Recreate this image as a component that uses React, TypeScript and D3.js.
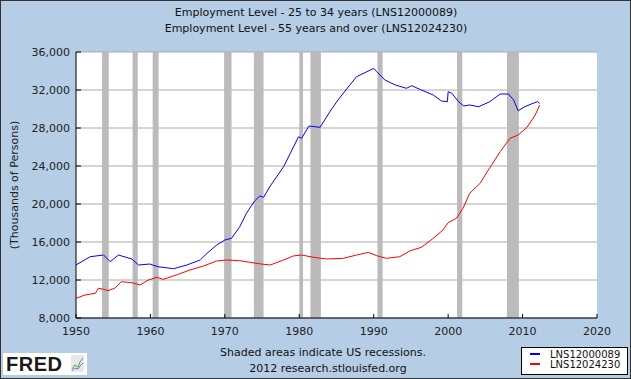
import React from "react";
import * as d3 from "d3";

const titleLines = [
  "Employment Level - 25 to 34 years (LNS12000089)",
  "Employment Level - 55 years and over (LNS12024230)",
];
const yTicks = [8000, 12000, 16000, 20000, 24000, 28000, 32000, 36000];
const xTicks = [1950, 1960, 1970, 1980, 1990, 2000, 2010, 2020];

const recessions: [number, number][] = [
  [1953.5, 1954.4], [1957.6, 1958.3], [1960.3, 1961.1], [1969.9, 1970.9],
  [1973.9, 1975.2], [1980.0, 1980.5], [1981.5, 1982.9], [1990.5, 1991.2],
  [2001.2, 2001.9], [2007.9, 2009.5],
];

const blueYears = [1950, 1951.9, 1953.7, 1954.6, 1955.7, 1957.5, 1958.4, 1959.9, 1961, 1963.1, 1964.9, 1966.7, 1967.6, 1968.9, 1970, 1970.9, 1972, 1972.9, 1974, 1974.7, 1975.2, 1976.1, 1977.9, 1979.9, 1980.3, 1981.3, 1982.8, 1984.1, 1985.2, 1986.8, 1987.7, 1989.1, 1990.0, 1990.4, 1991.5, 1992.9, 1994.4, 1995.1, 1996.4, 1998.0, 1999.1, 1999.9, 2000.0, 2000.5, 2001.4, 2002.1, 2002.9, 2004.1, 2005.6, 2007.0, 2008.1, 2008.8, 2009.4, 2010.3, 2011.4, 2012.0, 2012.3];
const blueValues = [13580, 14450, 14630, 13930, 14630, 14210, 13580, 13680, 13400, 13190, 13580, 14110, 14810, 15680, 16210, 16390, 17610, 19020, 20320, 20840, 20700, 21900, 23930, 27080, 26910, 28210, 28070, 29710, 30950, 32530, 33400, 33930, 34280, 33930, 33050, 32530, 32180, 32450, 32000, 31470, 30840, 30770, 31820, 31650, 30770, 30320, 30420, 30240, 30770, 31580, 31580, 30950, 29820, 30240, 30600, 30770, 30600];

const redYears = [1950, 1951.2, 1952.6, 1953.0, 1953.7, 1954.3, 1955.2, 1956.1, 1957.5, 1958.6, 1959.7, 1960.9, 1961.7, 1963.5, 1965.3, 1967.1, 1968.9, 1970.2, 1972.0, 1973.4, 1974.9, 1976.1, 1977.9, 1979.2, 1980.3, 1981.9, 1983.7, 1985.9, 1987.7, 1989.3, 1990.4, 1991.7, 1993.5, 1994.9, 1996.4, 1998.0, 1999.3, 2000.0, 2001.1, 2002.0, 2002.9, 2004.3, 2005.4, 2007.0, 2008.3, 2009.4, 2010.6, 2011.7, 2012.3];
const redValues = [10070, 10420, 10600, 11130, 11020, 10880, 11130, 11820, 11720, 11470, 12000, 12280, 12070, 12530, 13050, 13470, 14000, 14110, 14030, 13860, 13680, 13580, 14110, 14530, 14630, 14390, 14210, 14280, 14630, 14910, 14560, 14280, 14450, 15080, 15440, 16390, 17260, 18030, 18490, 19550, 21130, 22180, 23580, 25510, 26910, 27260, 28070, 29370, 30420];

const seriesNames = ["LNS12000089", "LNS12024230"];
const seriesColors = ["#0000FF", "#FF0000"];

const W = 631, H = 379;
const L = 76, R = 597, T = 52, B = 318;
const font = "'DejaVu Sans', Verdana, sans-serif";

export default function App() {
  const x = d3.scaleLinear().domain([1950, 2020]).range([L, R]);
  const y = d3.scaleLinear().domain([8000, 36000]).range([B, T]);
  const line = d3.line<[number, number]>().x(d => x(d[0])).y(d => y(d[1]));
  const blue = line(blueYears.map((v, i) => [v, blueValues[i]]))!;
  const red = line(redYears.map((v, i) => [v, redValues[i]]))!;
  const fmt = d3.format(",");

  return (
    <svg width={W} height={H} style={{ position: "absolute", left: 0, top: 0 }} fontFamily={font}>
      <rect x={0} y={0} width={W} height={H} fill="#B5CDE5" />
      <rect x={0.5} y={0.5} width={W - 1} height={H - 1} fill="none" stroke="#333" />
      {titleLines.map((t, i) => (
        <text key={i} x={316} y={16 + i * 16} textAnchor="middle" fontSize={11} fill="#111">{t}</text>
      ))}
      <rect x={L} y={T} width={R - L} height={B - T} fill="#fff" />
      {yTicks.map(v => (
        <line key={v} x1={L} x2={R} y1={y(v)} y2={y(v)} stroke="#AAAAAA" />
      ))}
      {recessions.map(([a, b], i) => (
        <rect key={i} x={x(a)} y={T} width={x(b) - x(a)} height={B - T} fill="#BBBBBB" />
      ))}
      <path d={red} fill="none" stroke={seriesColors[1]} strokeWidth={1} />
      <path d={blue} fill="none" stroke={seriesColors[0]} strokeWidth={1} />
      <line x1={L} x2={L} y1={T} y2={B} stroke="#000" />
      <line x1={L} x2={R} y1={B} y2={B} stroke="#000" />
      {yTicks.map(v => (
        <g key={v}>
          <line x1={L} x2={L + 5} y1={y(v)} y2={y(v)} stroke="#000" />
          <text x={70} y={y(v) + 4} textAnchor="end" fontSize={11} fill="#222">{fmt(v)}</text>
        </g>
      ))}
      {xTicks.map(v => (
        <g key={v}>
          <line x1={x(v)} x2={x(v)} y1={B} y2={B - 4} stroke="#000" />
          <text x={x(v)} y={335} textAnchor="middle" fontSize={11} fill="#222">{v}</text>
        </g>
      ))}
      <text transform={`translate(18,${(T + B) / 2}) rotate(-90)`} textAnchor="middle" fontSize={11} fill="#222">(Thousands of Persons)</text>
      <text x={323} y={356} textAnchor="middle" fontSize={11} fill="#111">Shaded areas indicate US recessions.</text>
      <text x={328} y={372} textAnchor="middle" fontSize={11} fill="#111">2012 research.stlouisfed.org</text>
      <rect x={3} y={353} width={84} height={22} fill="#fff" />
      <text x={6} y={371} fontSize={20} fontWeight="bold" letterSpacing={0.5} fill="#1a1a1a" fontFamily="'Liberation Sans', Arial, sans-serif">FRED</text>
      <rect x={71} y={355} width={13} height={17} fill="#E8E8E8" />
      <polyline points="72,369 75,365 78,367 80,362 83,358" fill="none" stroke="#5A9E4A" />
      <polyline points="72,371 75,368 78,369 80,366 83,363" fill="none" stroke="#5A7EC8" />
      <rect x={521.5} y={347.5} width={106} height={27} fill="#fff" stroke="#000" />
      {seriesNames.map((n, i) => (
        <g key={n}>
          <line x1={530} x2={540} y1={354 + i * 10} y2={354 + i * 10} stroke={seriesColors[i]} strokeWidth={2} />
          <text x={550} y={357.5 + i * 10} fontSize={10} fill="#111">{n}</text>
        </g>
      ))}
    </svg>
  );
}
